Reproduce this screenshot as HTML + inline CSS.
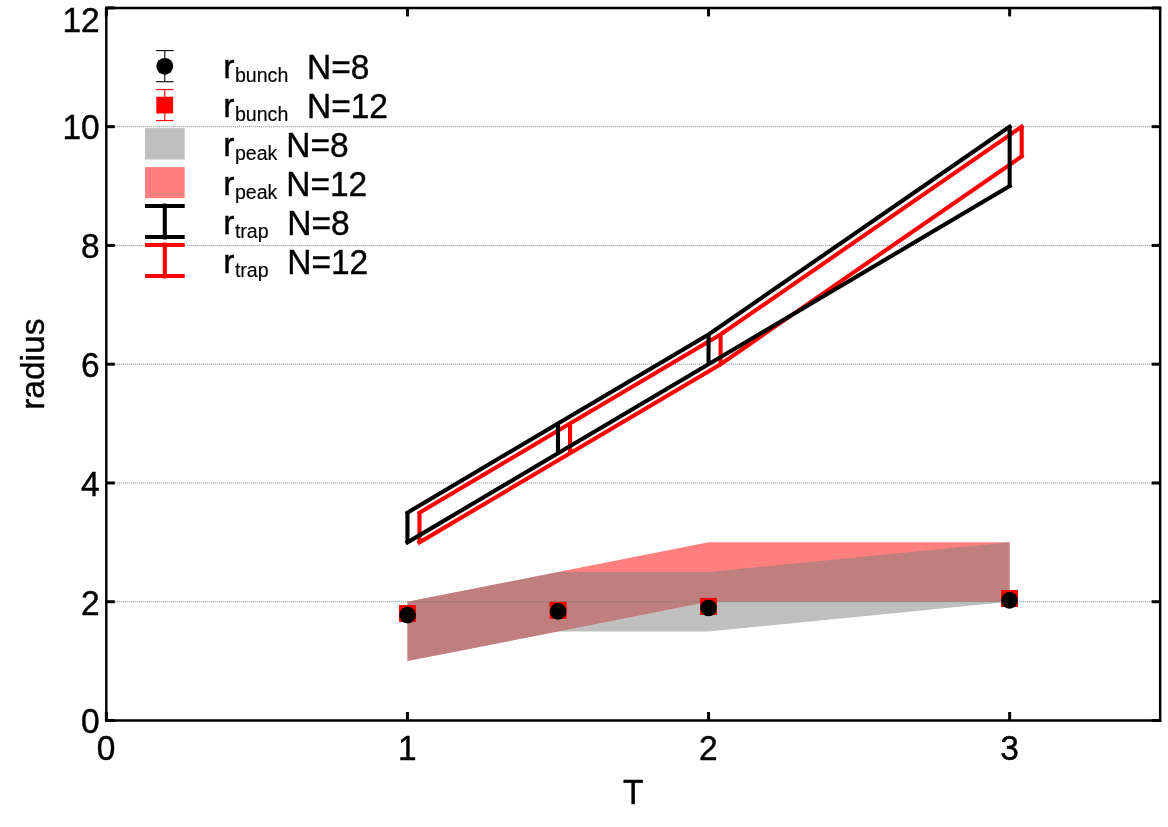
<!DOCTYPE html>
<html><head><meta charset="utf-8"><title>radius vs T</title>
<style>html,body{margin:0;padding:0;background:#fff;overflow:hidden;}svg{display:block;will-change:transform;}text{font-family:"Liberation Sans",sans-serif;fill:#000;stroke:#000;stroke-width:0.4px;stroke-linejoin:round;}</style></head><body>
<svg width="1168" height="827" viewBox="0 0 1168 827">
<rect x="0" y="0" width="1168" height="827" fill="#ffffff"/>
<polygon points="407.45,601.73 558.00,572.04 708.55,542.35 1009.65,542.35 1009.65,601.73 708.55,601.73 558.00,631.43 407.45,661.12" fill="#ff0000" fill-opacity="0.5"/>
<polygon points="407.45,601.73 558.00,572.04 708.55,572.04 1009.65,542.35 1009.65,601.73 708.55,631.43 558.00,631.43 407.45,661.12" fill="#808080" fill-opacity="0.5"/>
<line x1="114.80" y1="601.73" x2="1151.65" y2="601.73" stroke="#787878" stroke-width="0.9" stroke-dasharray="1 1"/>
<line x1="114.80" y1="482.97" x2="1151.65" y2="482.97" stroke="#787878" stroke-width="0.9" stroke-dasharray="1 1"/>
<line x1="114.80" y1="364.20" x2="1151.65" y2="364.20" stroke="#787878" stroke-width="0.9" stroke-dasharray="1 1"/>
<line x1="114.80" y1="245.44" x2="1151.65" y2="245.44" stroke="#787878" stroke-width="0.9" stroke-dasharray="1 1"/>
<line x1="114.80" y1="126.67" x2="1151.65" y2="126.67" stroke="#787878" stroke-width="0.9" stroke-dasharray="1 1"/>
<g fill="none" stroke="#ff0000" stroke-width="4.1" stroke-linejoin="miter">
<polyline points="419.49,512.66 570.04,423.58 720.59,334.51 1021.69,126.67" stroke-linecap="square"/>
<polyline points="419.49,542.35 570.04,453.28 720.59,364.20 1021.69,156.36" stroke-linecap="square"/>
<line x1="419.49" y1="512.66" x2="419.49" y2="542.35"/>
<line x1="570.04" y1="423.58" x2="570.04" y2="453.28"/>
<line x1="720.59" y1="334.51" x2="720.59" y2="364.20"/>
<line x1="1021.69" y1="126.67" x2="1021.69" y2="156.36"/>
</g>
<g fill="none" stroke="#000000" stroke-width="4.1" stroke-linejoin="miter">
<polyline points="407.45,512.66 558.00,423.58 708.55,334.51 1009.65,126.67" stroke-linecap="square"/>
<polyline points="407.45,542.35 558.00,453.28 708.55,364.20 1009.65,186.05" stroke-linecap="square"/>
<line x1="407.45" y1="512.66" x2="407.45" y2="542.35"/>
<line x1="558.00" y1="423.58" x2="558.00" y2="453.28"/>
<line x1="708.55" y1="334.51" x2="708.55" y2="364.20"/>
<line x1="1009.65" y1="126.67" x2="1009.65" y2="186.05"/>
</g>
<rect x="399.00" y="605.00" width="17" height="17" fill="#ff0000"/>
<rect x="549.60" y="601.80" width="17" height="17" fill="#ff0000"/>
<rect x="700.00" y="597.90" width="17" height="17" fill="#ff0000"/>
<rect x="1001.00" y="590.00" width="17" height="17" fill="#ff0000"/>
<circle cx="407.60" cy="615.10" r="8.35" fill="#000"/>
<circle cx="558.10" cy="611.40" r="8.35" fill="#000"/>
<circle cx="708.55" cy="608.00" r="8.35" fill="#000"/>
<circle cx="1009.55" cy="600.30" r="8.35" fill="#000"/>
<g stroke="#000" stroke-width="2.45" fill="none" stroke-linecap="square">
<line x1="106.30" y1="7.90" x2="1160.15" y2="7.90"/>
<line x1="106.30" y1="720.50" x2="1160.15" y2="720.50"/>
<line x1="106.30" y1="7.90" x2="106.30" y2="720.50"/>
<line x1="1160.15" y1="7.90" x2="1160.15" y2="720.50"/>
</g>
<g stroke="#000" stroke-width="3" fill="none">
<line x1="106.35" y1="720.50" x2="106.35" y2="712.00"/>
<line x1="106.35" y1="7.90" x2="106.35" y2="16.40"/>
<line x1="407.45" y1="720.50" x2="407.45" y2="712.00"/>
<line x1="407.45" y1="7.90" x2="407.45" y2="16.40"/>
<line x1="708.55" y1="720.50" x2="708.55" y2="712.00"/>
<line x1="708.55" y1="7.90" x2="708.55" y2="16.40"/>
<line x1="1009.65" y1="720.50" x2="1009.65" y2="712.00"/>
<line x1="1009.65" y1="7.90" x2="1009.65" y2="16.40"/>
<line x1="106.30" y1="720.50" x2="114.80" y2="720.50"/>
<line x1="1160.15" y1="720.50" x2="1151.65" y2="720.50"/>
<line x1="106.30" y1="601.73" x2="114.80" y2="601.73"/>
<line x1="1160.15" y1="601.73" x2="1151.65" y2="601.73"/>
<line x1="106.30" y1="482.97" x2="114.80" y2="482.97"/>
<line x1="1160.15" y1="482.97" x2="1151.65" y2="482.97"/>
<line x1="106.30" y1="364.20" x2="114.80" y2="364.20"/>
<line x1="1160.15" y1="364.20" x2="1151.65" y2="364.20"/>
<line x1="106.30" y1="245.44" x2="114.80" y2="245.44"/>
<line x1="1160.15" y1="245.44" x2="1151.65" y2="245.44"/>
<line x1="106.30" y1="126.67" x2="114.80" y2="126.67"/>
<line x1="1160.15" y1="126.67" x2="1151.65" y2="126.67"/>
<line x1="106.30" y1="7.90" x2="114.80" y2="7.90"/>
<line x1="1160.15" y1="7.90" x2="1151.65" y2="7.90"/>
</g>
<text transform="translate(106.15,759.50) scale(1,1.020)" font-size="33.5" text-anchor="middle">0</text>
<text transform="translate(407.25,759.50) scale(1,1.020)" font-size="33.5" text-anchor="middle">1</text>
<text transform="translate(708.35,759.50) scale(1,1.020)" font-size="33.5" text-anchor="middle">2</text>
<text transform="translate(1009.45,759.50) scale(1,1.020)" font-size="33.5" text-anchor="middle">3</text>
<text transform="translate(99.70,733.30) scale(1,1.020)" font-size="33.5" text-anchor="end">0</text>
<text transform="translate(99.70,614.53) scale(1,1.020)" font-size="33.5" text-anchor="end">2</text>
<text transform="translate(99.70,495.77) scale(1,1.020)" font-size="33.5" text-anchor="end">4</text>
<text transform="translate(99.70,377.00) scale(1,1.020)" font-size="33.5" text-anchor="end">6</text>
<text transform="translate(99.70,258.24) scale(1,1.020)" font-size="33.5" text-anchor="end">8</text>
<text transform="translate(99.70,139.47) scale(1,1.020)" font-size="33.5" text-anchor="end">10</text>
<text transform="translate(99.70,31.80) scale(1,1.020)" font-size="33.5" text-anchor="end">12</text>
<text transform="translate(633.20,804.20) scale(1,1.020)" font-size="33.5" text-anchor="middle">T</text>
<text transform="translate(44,364.2) rotate(-90)" font-size="33.5" text-anchor="middle">radius</text>
<g stroke="#000" stroke-width="1.1" fill="none">
<line x1="164.80" y1="50.6" x2="164.80" y2="81.7"/>
<line x1="156.1" y1="50.6" x2="173.6" y2="50.6"/><line x1="156.1" y1="81.7" x2="173.6" y2="81.7"/>
</g>
<circle cx="164.80" cy="66.3" r="8.4" fill="#000"/>
<g stroke="#ff0000" stroke-width="1.1" fill="none">
<line x1="164.80" y1="89.6" x2="164.80" y2="120.6"/>
<line x1="156.1" y1="89.6" x2="173.6" y2="89.6"/><line x1="156.1" y1="120.6" x2="173.6" y2="120.6"/>
</g>
<rect x="156.3" y="96.7" width="16.8" height="16.8" fill="#ff0000"/>
<rect x="145" y="128.1" width="39.7" height="31.4" fill="#808080" fill-opacity="0.5"/>
<rect x="145" y="167.1" width="39.7" height="31" fill="#ff0000" fill-opacity="0.5"/>
<g stroke="#000" stroke-width="4.1" fill="none">
<line x1="145" y1="206.0" x2="184.7" y2="206.0"/>
<line x1="145" y1="237.0" x2="184.7" y2="237.0"/>
<line x1="164.8" y1="203.6" x2="164.8" y2="239.4"/>
</g>
<g stroke="#ff0000" stroke-width="4.1" fill="none">
<line x1="145" y1="245.0" x2="184.7" y2="245.0"/>
<line x1="145" y1="276.0" x2="184.7" y2="276.0"/>
<line x1="164.8" y1="242.6" x2="164.8" y2="278.4"/>
</g>
<text transform="translate(223.20,78.30) scale(1,1.000)" font-size="33.5" text-anchor="start">r</text>
<text style="stroke-width:0.15px" transform="translate(234.90,81.60) scale(1,1.000)" font-size="19.6" text-anchor="start">bunch</text>
<text transform="translate(307.00,78.50) scale(1,1.020)" font-size="33.5" text-anchor="start">N=8</text>
<text transform="translate(223.20,117.30) scale(1,1.000)" font-size="33.5" text-anchor="start">r</text>
<text style="stroke-width:0.15px" transform="translate(234.90,120.60) scale(1,1.000)" font-size="19.6" text-anchor="start">bunch</text>
<text transform="translate(307.00,117.50) scale(1,1.020)" font-size="33.5" text-anchor="start">N=12</text>
<text transform="translate(223.20,156.30) scale(1,1.000)" font-size="33.5" text-anchor="start">r</text>
<text style="stroke-width:0.15px" transform="translate(234.90,159.60) scale(1,1.000)" font-size="19.6" text-anchor="start">peak</text>
<text transform="translate(286.20,156.50) scale(1,1.020)" font-size="33.5" text-anchor="start">N=8</text>
<text transform="translate(223.20,195.30) scale(1,1.000)" font-size="33.5" text-anchor="start">r</text>
<text style="stroke-width:0.15px" transform="translate(234.90,198.60) scale(1,1.000)" font-size="19.6" text-anchor="start">peak</text>
<text transform="translate(286.20,195.50) scale(1,1.020)" font-size="33.5" text-anchor="start">N=12</text>
<text transform="translate(223.20,234.30) scale(1,1.000)" font-size="33.5" text-anchor="start">r</text>
<text style="stroke-width:0.15px" transform="translate(234.90,237.60) scale(1,1.000)" font-size="19.6" text-anchor="start">trap</text>
<text transform="translate(287.20,234.50) scale(1,1.020)" font-size="33.5" text-anchor="start">N=8</text>
<text transform="translate(223.20,273.30) scale(1,1.000)" font-size="33.5" text-anchor="start">r</text>
<text style="stroke-width:0.15px" transform="translate(234.90,276.60) scale(1,1.000)" font-size="19.6" text-anchor="start">trap</text>
<text transform="translate(287.20,273.50) scale(1,1.020)" font-size="33.5" text-anchor="start">N=12</text>
</svg></body></html>
